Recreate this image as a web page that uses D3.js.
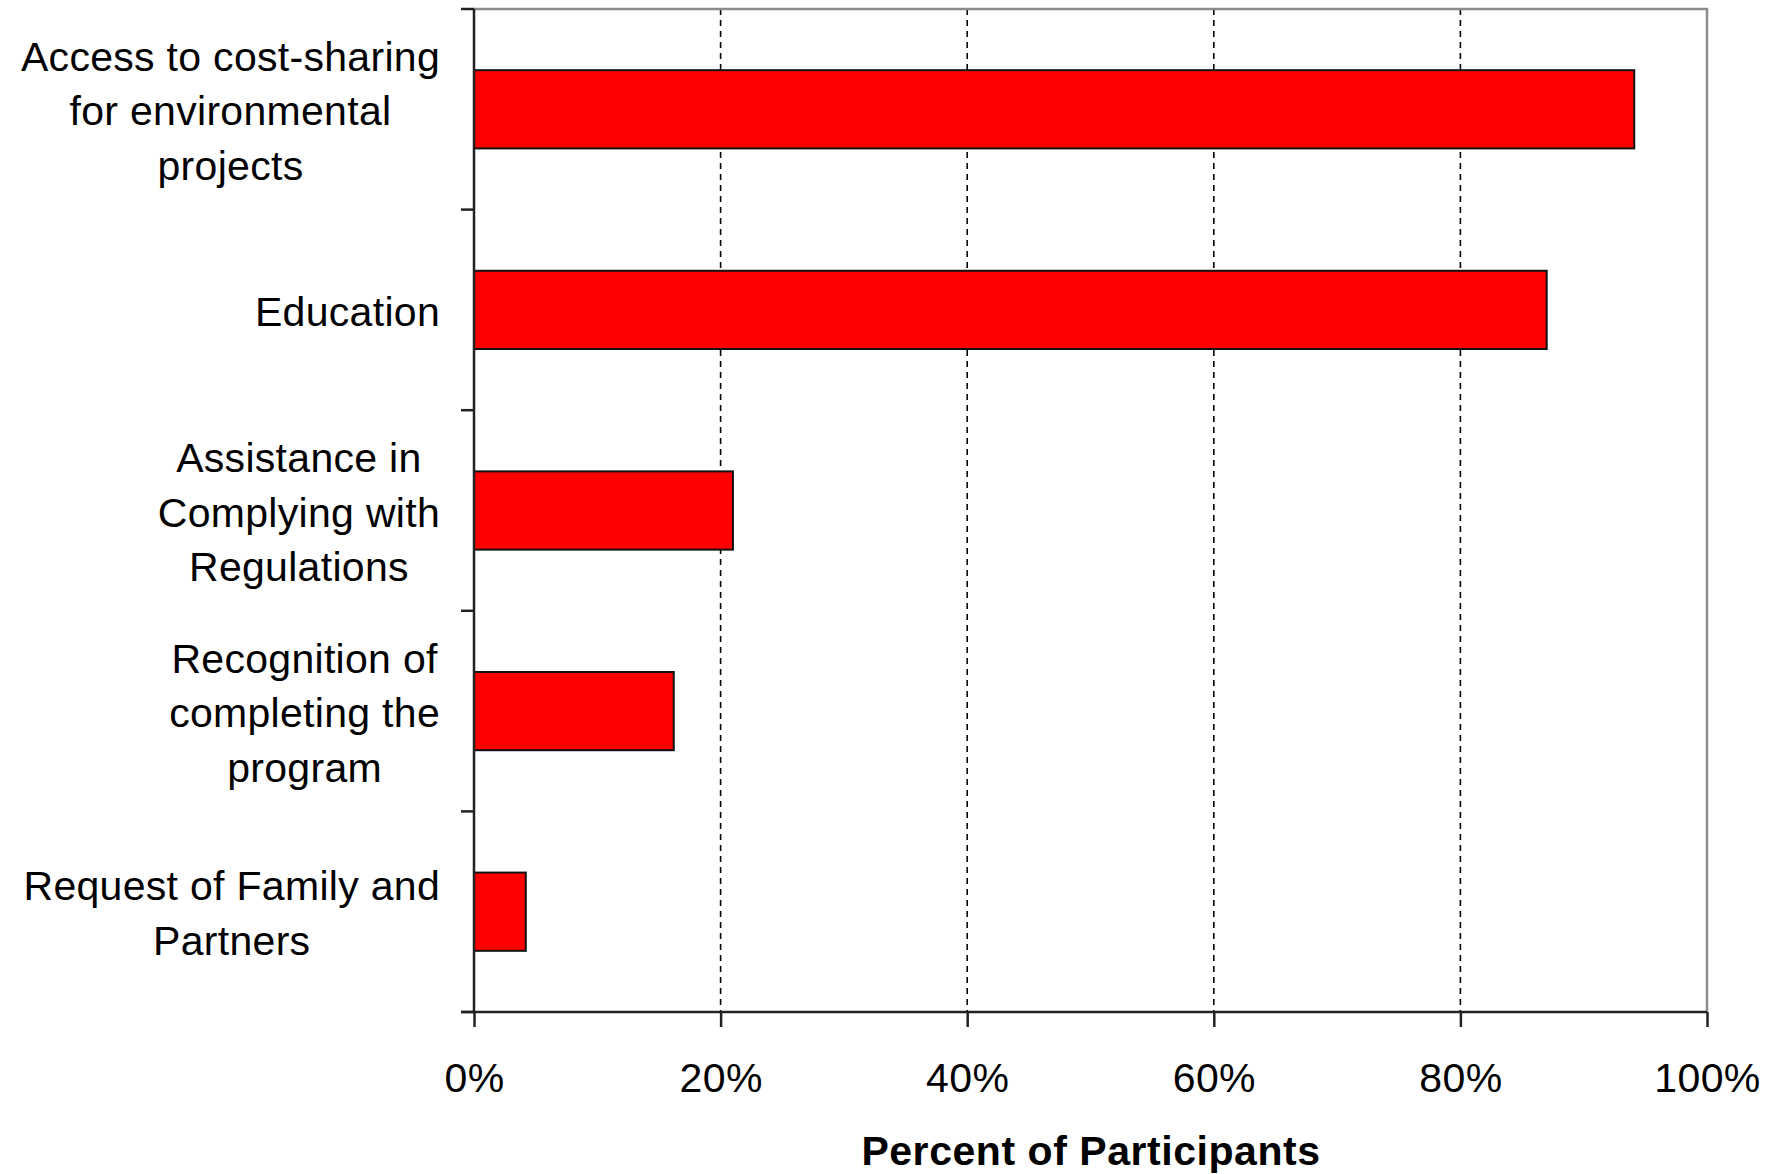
<!DOCTYPE html>
<html>
<head>
<meta charset="utf-8">
<script src="https://cdn.jsdelivr.net/npm/d3@7"></script>
<style>
  html, body { margin: 0; padding: 0; background: #fff; }
  svg { display: block; }
  text { font-family: "Liberation Sans", Arial, sans-serif; fill: #000; }
</style>
</head>
<body>
<svg id="chart" width="1780" height="1174"></svg>
<script>
const categories = [
  ["Access to cost-sharing", "for environmental", "projects"],
  ["Education"],
  ["Assistance in", "Complying with", "Regulations"],
  ["Recognition of", "completing the", "program"],
  ["Request of Family and", "Partners"]
];
const values = [94.1, 87.0, 21.0, 16.2, 4.2];
const xTicks = [0, 20, 40, 60, 80, 100];
const xTitle = "Percent of Participants";

(function () {
const svg = d3.select("#chart");
const pl = 474, pr = 1707, pt = 9, pb = 1012;

const x = d3.scaleLinear().domain([0, 100]).range([pl, pr]);
const y = d3.scaleBand().domain(d3.range(categories.length)).range([pt, pb])
  .paddingInner(0.61).paddingOuter(0.305);

// gridlines
svg.append("g").selectAll("line").data(xTicks.filter(t => t > 0 && t < 100)).join("line")
  .attr("x1", d => x(d)).attr("x2", d => x(d))
  .attr("y1", pt).attr("y2", pb)
  .attr("stroke", "#000").attr("stroke-width", 1.6)
  .attr("stroke-dasharray", "6,5");

// plot border top/right gray
svg.append("path")
  .attr("d", `M${pl},${pt}H${pr}V${pb}`)
  .attr("fill", "none").attr("stroke", "#8c8c8c").attr("stroke-width", 2.5);

// bars
svg.append("g").selectAll("rect").data(values).join("rect")
  .attr("x", x(0)).attr("y", (d, i) => y(i))
  .attr("width", d => x(d) - x(0)).attr("height", y.bandwidth())
  .attr("fill", "#ff0000").attr("stroke", "#111").attr("stroke-width", 2);

// x axis
const xAxis = d3.axisBottom(x).tickValues(xTicks).tickFormat(d => d + "%")
  .tickSize(15).tickPadding(36).tickSizeOuter(0);
const gx = svg.append("g").attr("transform", `translate(0,${pb})`).call(xAxis);
gx.select(".domain").attr("stroke", "#222").attr("stroke-width", 2.5)
  .attr("d", `M${pl - 13},0H${pr}`);
gx.selectAll(".tick line").attr("stroke", "#222").attr("stroke-width", 2.5);
gx.selectAll(".tick text").attr("font-size", 41).attr("fill", "#000")
  .style("letter-spacing", "0.4px")
  .style("font-family", '"Liberation Sans", Arial, sans-serif');

// y axis: ticks at band boundaries
const bounds = d3.range(categories.length + 1).map(i => pt + i * (pb - pt) / categories.length);
svg.append("line").attr("x1", pl).attr("x2", pl).attr("y1", pt).attr("y2", pb)
  .attr("stroke", "#222").attr("stroke-width", 2.5);
svg.append("g").selectAll("line").data(bounds).join("line")
  .attr("x1", pl - 13).attr("x2", pl).attr("y1", d => d).attr("y2", d => d)
  .attr("stroke", "#222").attr("stroke-width", 2.5);

// category labels
const lineH = 54.5;
const labelRight = 440;
categories.forEach((lines, i) => {
  const cy = y(i) + y.bandwidth() / 2 + 2;
  const g = svg.append("g");
  const texts = lines.map((ln, j) => g.append("text")
    .attr("font-size", 41)
    .style("letter-spacing", "0.3px")
    .attr("text-anchor", "middle")
    .attr("dominant-baseline", "central")
    .attr("y", cy + (j - (lines.length - 1) / 2) * lineH)
    .text(ln));
  const maxW = d3.max(texts, t => t.node().getComputedTextLength());
  texts.forEach(t => t.attr("x", labelRight - maxW / 2));
});

// x title
svg.append("text").attr("x", 1091).attr("y", 1165)
  .attr("text-anchor", "middle").attr("font-size", 41).attr("font-weight", "bold")
  .style("letter-spacing", "0.55px")
  .text(xTitle);
})();
</script>
</body>
</html>
